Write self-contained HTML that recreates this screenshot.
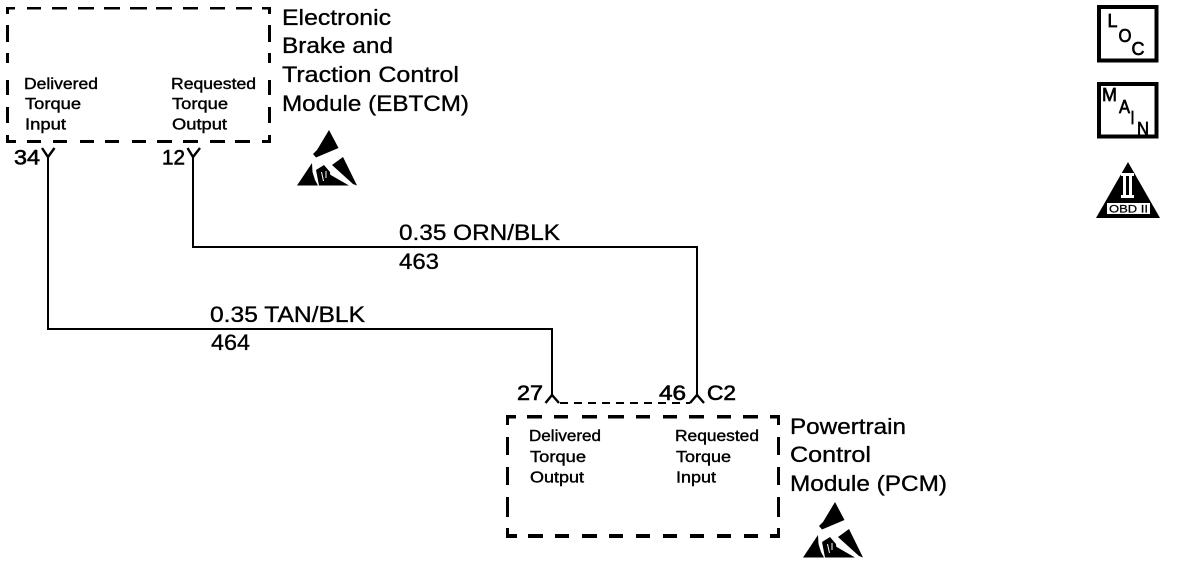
<!DOCTYPE html>
<html>
<head>
<meta charset="utf-8">
<style>
html,body{margin:0;padding:0;background:#fff;width:1184px;height:564px;overflow:hidden}
svg{display:block}
text{font-family:"Liberation Sans",sans-serif;fill:#000;stroke:#000;stroke-width:.35px}
.b{font-size:22.5px}
.s{font-size:16px;stroke-width:.4px}
.n{font-size:21px;stroke-width:.6px}
.i{font-size:18.5px;stroke-width:.7px}
.c{shape-rendering:crispEdges}
</style>
</head>
<body>
<svg width="1184" height="564" viewBox="0 0 1184 564" xmlns="http://www.w3.org/2000/svg">
<defs>
<g id="esd">
<polygon points="329,130 338.500,148 316,157.500 313,154 317,150"/>
<polygon points="297,185.500 312,163 312.500,172 315,180 318,185.500"/>
<polygon points="316,170 324,165 330,172 331,185.500 319,185.500"/>
<polygon points="332,165 343,157 357,185.500 353,184"/>
<polygon points="329,174 349,185.500 330,185.500"/>
<path d="M321.500 172L323.500 181M326 171L326 178" stroke="#fff" stroke-width="1" fill="none"/>
</g>
</defs>

<g class="c">
<!-- EBTCM box -->
<path stroke="#000" stroke-width="2.500" fill="none" d="M6 8.200H15M27 8.200H41M52 8.200H67M78 8.200H94M104 8.200H120M130 8.200H147M156 8.200H172M183 8.200H198M210 8.200H225M236 8.200H252M262 8.200H271"/>
<path stroke="#000" stroke-width="3.200" fill="none" d="M7.500 7V14M7.500 25V42M7.500 53V63M7.500 80V95M7.500 107V123M7.500 135V143M269.500 7V14M269.500 25V42M269.500 53V63M269.500 80V95M269.500 107V123M269.500 135V143"/>
<path stroke="#000" stroke-width="3.400" fill="none" d="M6 141.500H16M27 141.500H41M53 141.500H67M80 141.500H94M105 141.500H119M132 141.500H146M157 141.500H172M183 141.500H198M210 141.500H225M235 141.500H250M262 141.500H271"/>
<!-- PCM box -->
<path stroke="#000" stroke-width="3.400" fill="none" d="M507 416.700H516M527 416.700H542M554 416.700H568M582 416.700H597M608 416.700H624M636 416.700H650M663 416.700H677M689 416.700H704M717 416.700H731M743 416.700H758M770 416.700H780"/>
<path stroke="#000" stroke-width="3.200" fill="none" d="M507.500 415V425M507.500 437V455M507.500 467V485M507.500 497V517M507.500 528V538M778.500 415V425M778.500 437V455M778.500 467V485M778.500 497V517M778.500 528V538"/>
<path stroke="#000" stroke-width="3.600" fill="none" d="M507 536H517M528 536H543M555 536H569M582 536H597M609 536H623M636 536H650M663 536H677M690 536H704M717 536H731M744 536H758M770 536H780"/>
</g>

<!-- Wires -->
<g fill="none" stroke="#000" stroke-width="2">
<path d="M48 156V329H552V397"/>
<path d="M193 156V247H697V397"/>
<path d="M42 148L48 157L54.500 148" stroke-width="2.400"/>
<path d="M187.500 148L193 157L200 148" stroke-width="2.400"/>
<path d="M545.500 403L552 395L559 403" stroke-width="2.400"/>
<path d="M690 403L697 395L704 403" stroke-width="2.400"/>
<path d="M560 403H690" stroke-dasharray="8 6"/>
</g>

<!-- EBTCM text -->
<text class="b" x="282" y="25" textLength="109" lengthAdjust="spacingAndGlyphs">Electronic</text>
<text class="b" x="282" y="53" textLength="111" lengthAdjust="spacingAndGlyphs">Brake and</text>
<text class="b" x="282" y="82" textLength="177" lengthAdjust="spacingAndGlyphs">Traction Control</text>
<text class="b" x="282" y="111" textLength="187" lengthAdjust="spacingAndGlyphs">Module (EBTCM)</text>
<text class="s" x="24" y="89" textLength="74" lengthAdjust="spacingAndGlyphs">Delivered</text>
<text class="s" x="25" y="109" textLength="56" lengthAdjust="spacingAndGlyphs">Torque</text>
<text class="s" x="25" y="129.500" textLength="41" lengthAdjust="spacingAndGlyphs">Input</text>
<text class="s" x="171" y="89" textLength="85" lengthAdjust="spacingAndGlyphs">Requested</text>
<text class="s" x="172" y="109" textLength="56" lengthAdjust="spacingAndGlyphs">Torque</text>
<text class="s" x="172" y="129.500" textLength="55" lengthAdjust="spacingAndGlyphs">Output</text>
<text class="n" x="14" y="164.500" textLength="26" lengthAdjust="spacingAndGlyphs">34</text>
<text class="n" x="162" y="164.500" textLength="23" lengthAdjust="spacingAndGlyphs">12</text>
<use href="#esd"/>

<!-- Wire labels -->
<text class="b" x="399" y="240" textLength="161" lengthAdjust="spacingAndGlyphs">0.35 ORN/BLK</text>
<text class="b" x="399" y="269" textLength="40" lengthAdjust="spacingAndGlyphs">463</text>
<text class="b" x="210" y="322" textLength="155" lengthAdjust="spacingAndGlyphs">0.35 TAN/BLK</text>
<text class="b" x="211" y="350" textLength="39" lengthAdjust="spacingAndGlyphs">464</text>

<!-- PCM text -->
<text class="n" x="517" y="400" textLength="26" lengthAdjust="spacingAndGlyphs">27</text>
<text class="n" x="659" y="400" textLength="27" lengthAdjust="spacingAndGlyphs">46</text>
<text class="n" x="707" y="400" textLength="29" lengthAdjust="spacingAndGlyphs">C2</text>
<text class="s" x="529" y="441" textLength="72" lengthAdjust="spacingAndGlyphs">Delivered</text>
<text class="s" x="530" y="462" textLength="56" lengthAdjust="spacingAndGlyphs">Torque</text>
<text class="s" x="530" y="482.500" textLength="54" lengthAdjust="spacingAndGlyphs">Output</text>
<text class="s" x="675" y="441" textLength="84" lengthAdjust="spacingAndGlyphs">Requested</text>
<text class="s" x="676" y="462" textLength="55" lengthAdjust="spacingAndGlyphs">Torque</text>
<text class="s" x="676" y="482.500" textLength="40" lengthAdjust="spacingAndGlyphs">Input</text>
<text class="b" x="790" y="434" textLength="116" lengthAdjust="spacingAndGlyphs">Powertrain</text>
<text class="b" x="790" y="462" textLength="81" lengthAdjust="spacingAndGlyphs">Control</text>
<text class="b" x="790" y="491" textLength="157" lengthAdjust="spacingAndGlyphs">Module (PCM)</text>
<use href="#esd" transform="translate(506,372)"/>

<!-- LOC -->
<path class="c" fill="none" stroke="#000" stroke-width="4" d="M1099 7H1156.500V60.500H1099Z"/>
<text class="i" x="1107.500" y="27" textLength="10" lengthAdjust="spacingAndGlyphs">L</text>
<text class="i" x="1118.500" y="42" textLength="13" lengthAdjust="spacingAndGlyphs">O</text>
<text class="i" x="1131.500" y="55" textLength="13" lengthAdjust="spacingAndGlyphs">C</text>

<!-- MAIN -->
<path class="c" fill="none" stroke="#000" stroke-width="4" d="M1099 84H1156.500V136.500H1099Z"/>
<text class="i" x="1102" y="101" textLength="15" lengthAdjust="spacingAndGlyphs">M</text>
<text class="i" x="1119" y="113" textLength="11" lengthAdjust="spacingAndGlyphs">A</text>
<text class="i" x="1130.500" y="124" textLength="4" lengthAdjust="spacingAndGlyphs">I</text>
<text class="i" x="1137" y="135" textLength="12" lengthAdjust="spacingAndGlyphs">N</text>

<!-- OBD II -->
<polygon points="1128,162 1160,218 1096,218"/>
<g class="c" fill="#fff">
<rect x="1121" y="173" width="13" height="3"/>
<rect x="1123" y="176" width="3" height="19"/>
<rect x="1129" y="176" width="3" height="19"/>
<rect x="1121" y="195" width="13" height="3"/>
<rect x="1107" y="203" width="43" height="11"/>
</g>
<text x="1109" y="212.500" font-size="11" textLength="39" lengthAdjust="spacingAndGlyphs" style="stroke-width:.25px">OBD II</text>
</svg>
</body>
</html>
